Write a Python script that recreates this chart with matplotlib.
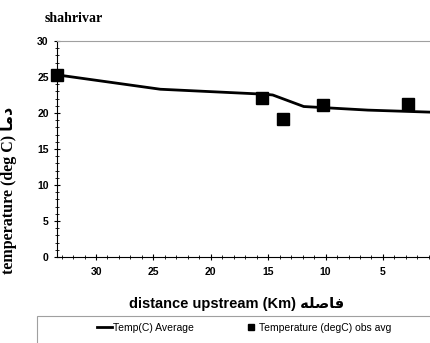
import numpy as np
import matplotlib
matplotlib.use('Agg')
import matplotlib.pyplot as plt
from matplotlib.ticker import MultipleLocator
from matplotlib.patches import Rectangle

# data
dist_line = [33.4, 24.4, 15.2, 14.6, 11.9, 6.3, 0.5]
temp_line = [25.3, 23.3, 22.6, 22.5, 20.9, 20.4, 20.1]
dist_obs = [33.4, 15.55, 13.7, 10.2, 2.8]
temp_obs = [25.3, 22.1, 19.2, 21.1, 21.3]

title_txt = 'shahrivar'
# Persian words written in presentation forms, visual order
fa_dist = '\uFEEA\uFEE0\uFEBB\uFE8E\uFED3'
fa_temp = '\uFE8E\uFEE3\uFEA9'

narrow = ['Liberation Sans Narrow', 'Liberation Sans', 'DejaVu Sans']

W, H = 430, 343
fig = plt.figure(figsize=(W/100, H/100), dpi=100)
ax = fig.add_axes([57/W, 1-257/H, 1-57/W, (257-41)/H])

ax.plot(dist_line, temp_line, color='black', lw=2, label='Temp(C) Average', zorder=3)
ax.plot(dist_obs, temp_obs, ls='none', marker='s', ms=8, color='black',
        label='Temperature (degC) obs avg', zorder=4, clip_on=False)

ax.set_xlim(33.4, 0.9)
ax.set_ylim(0, 30)
ax.xaxis.set_major_locator(MultipleLocator(5))
ax.xaxis.set_minor_locator(MultipleLocator(1))
ax.yaxis.set_major_locator(MultipleLocator(5))
ax.yaxis.set_minor_locator(MultipleLocator(1))
ax.tick_params(which='major', direction='inout', length=5, width=0.8, labelsize=7.5)
ax.tick_params(axis='x', which='major', pad=5)
ax.tick_params(which='minor', direction='inout', length=3, width=0.6)
for lab in ax.get_xticklabels() + ax.get_yticklabels():
    lab.set_family(narrow)
    lab.set_fontweight('bold')

ax.spines['top'].set_color('#a0a0a0')
ax.spines['right'].set_visible(False)
ax.spines['left'].set_linewidth(0.8)
ax.spines['bottom'].set_linewidth(0.8)

ax.set_ylabel('temperature (deg C) ' + fa_temp, family=['Liberation Serif', 'DejaVu Sans'],
              fontweight='bold', fontsize=11.5)
ax.yaxis.set_label_coords((17-57)/(W-57), (257-190)/216)
ax.set_xlabel('distance upstream (Km) ' + fa_dist, family=narrow,
              fontweight='bold', fontsize=10.5)
ax.xaxis.set_label_coords((237-57)/(W-57), -(297-257)/216)
fig.text(45/W, 1-18/H, title_txt, family='Liberation Serif', fontweight='bold',
         fontsize=10, va='center', ha='left')

# legend box
fig.patches.append(Rectangle((37/W, -0.05), 1.0, 0.05 + 1-316/H, transform=fig.transFigure,
                             fill=False, edgecolor='#a0a0a0', lw=0.8))
h, l = ax.get_legend_handles_labels()
leg = fig.legend(h, l, loc='center left', bbox_to_anchor=(97/W, 1-328/H),
                 ncol=2, frameon=False, prop={'family': narrow, 'size': 7.5},
                 handlelength=1.4, handletextpad=0.1, markerscale=0.55,
                 columnspacing=4.8, borderpad=0, borderaxespad=0)

fig.savefig('out.png', dpi=100)
